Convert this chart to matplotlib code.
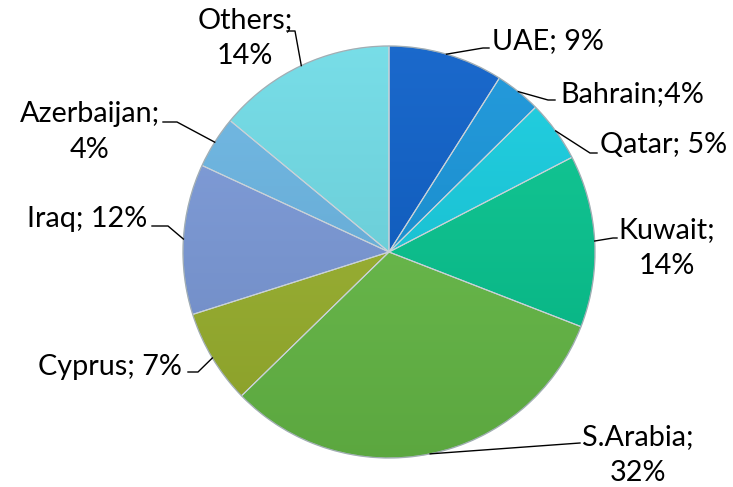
import numpy as np
import matplotlib
matplotlib.use('Agg')
import matplotlib.pyplot as plt
from matplotlib.colors import to_rgb

# data (shares, labels show rounded %)
countries = ['UAE', 'Bahrain', 'Qatar', 'Kuwait', 'S.Arabia',
             'Cyprus', 'Iraq', 'Azerbaijan', 'Others']
shares = [9.0, 3.6, 4.8, 13.5, 31.8, 7.4, 11.8, 4.1, 14.0]
seps = [' ', '', ' ', '\n', '\n', ' ', ' ', '\n', '\n']

colors = ['#0a5ec8', '#1594da', '#14cde0', '#05c690', '#68be48',
          '#9cb42e', '#7b9ada', '#6ab6e4', '#6edbe6']

# layout, pixel coords (y down)
cx, cy, R = 389, 252, 206
label_pos = [(492, 49, 'left'), (560, 102, 'left'), (600, 153, 'left'),
             (667, 238, 'center'), (638, 445, 'center'), (182, 375, 'right'),
             (147, 227, 'right'), (90, 122, 'center'), (245, 28, 'center')]
leader_pts = [[(483, 48), (489, 48)], [(548, 100), (555, 100)],
              [(590, 153), (597, 153)], [(613, 238), (617, 238)],
              [(580, 443)], [(198, 372), (188, 372)],
              [(168, 226), (152, 226)], [(177, 122), (163, 122)],
              [(295, 31), (287, 31)]]
line_gap = 36

plt.rcParams['font.family'] = ['Lato', 'DejaVu Sans']

fig = plt.figure(figsize=(7.33, 4.87), dpi=100)
ax = fig.add_axes([0, 0, 1, 1])

wedges, _ = ax.pie(shares, colors=colors, startangle=-90, counterclock=True,
                   center=(cx, cy), radius=R, frame=True,
                   wedgeprops=dict(edgecolor='#c9d2d8', linewidth=0.8))

# vertical gradient inside each wedge
t = np.linspace(0, 1, 256)[:, None, None]
for w, c in zip(wedges, colors):
    base = np.array(to_rgb(c))
    top = base + (1 - base) * 0.07
    bot = base * 0.88
    grad = top * (1 - t) + bot * t
    im = ax.imshow(grad, extent=(cx - R, cx + R, cy + R, cy - R),
                   origin='upper', aspect='auto', zorder=1,
                   interpolation='bilinear')
    im.set_clip_path(w)
    w.set_facecolor('none')
    w.set_zorder(2)

ax.add_patch(plt.Circle((cx, cy), R, fill=False, ec='#7a8a90',
                        lw=0.9, alpha=0.5, zorder=3))

# labels and leader lines
total = sum(shares)
cum = 0
for name, s, sep, (lx, ly, ha), pts, w in zip(countries, shares, seps,
                                               label_pos, leader_pts, wedges):
    mid = -90 + 360 * (cum + s / 2) / total
    cum += s
    ex = cx + R * np.cos(np.radians(mid))
    ey = cy + R * np.sin(np.radians(mid))
    xs = [ex] + [p[0] for p in pts]
    ys = [ey] + [p[1] for p in pts]
    ax.plot(xs, ys, color='black', lw=1.0, zorder=4)
    text = f'{name};{sep}{round(s)}%'
    for i, line in enumerate(text.split('\n')):
        ax.text(lx, ly + i * line_gap, line, ha=ha, va='baseline',
                fontsize=20.7, color='black', zorder=5)

ax.set_xlim(0, 733)
ax.set_ylim(487, 0)
ax.set_aspect('equal')
ax.axis('off')

fig.savefig('out.png', dpi=100)
